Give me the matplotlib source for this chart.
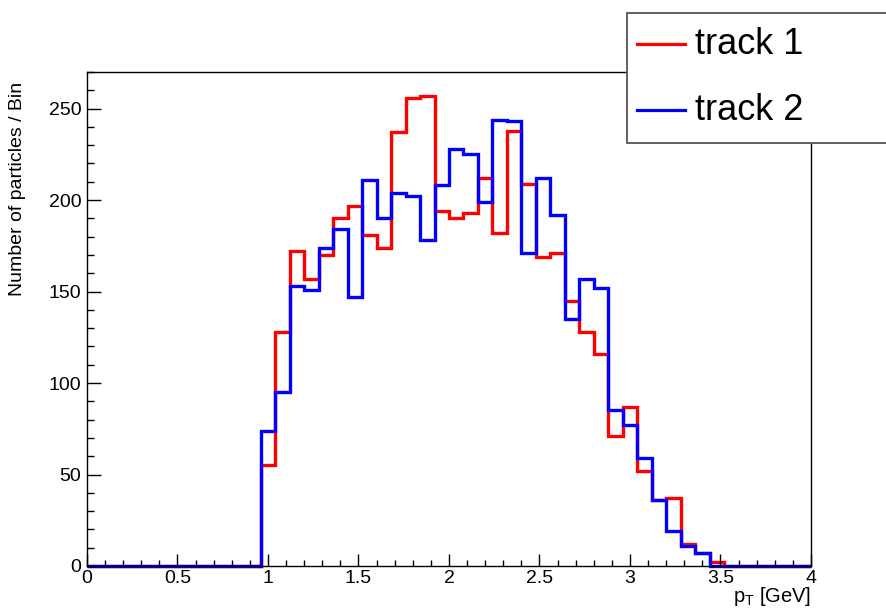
import numpy as np
import matplotlib
matplotlib.use('Agg')
import matplotlib.pyplot as plt
from matplotlib.patches import Rectangle
from matplotlib.lines import Line2D
from matplotlib.ticker import MultipleLocator

plt.rcParams['font.family'] = ['Liberation Sans', 'DejaVu Sans']
plt.rcParams['mathtext.fontset'] = 'custom'
plt.rcParams['mathtext.rm'] = 'Liberation Sans'
plt.rcParams['mathtext.it'] = 'Liberation Sans'

# 50 bins from 0 to 4 GeV, counts for the non-empty region 0.96 - 3.52
edges = np.linspace(0, 4, 51)
track1 = [55, 128, 172, 157, 170, 190, 197, 181, 174, 237, 256, 257, 194, 190, 193, 212,
          182, 238, 209, 169, 171, 145, 128, 116, 71, 87, 52, 36, 37, 12, 7, 2]
track2 = [74, 95, 153, 151, 174, 184, 147, 211, 190, 204, 202, 178, 208, 228, 225, 199,
          244, 243, 171, 212, 192, 135, 157, 152, 85, 77, 59, 36, 19, 11, 7, 0]
first_bin = 12

def full(counts):
    h = np.zeros(50)
    h[first_bin:first_bin + len(counts)] = counts
    return h

fig = plt.figure(figsize=(8.87, 6.12), dpi=100)
ax = fig.add_axes([87/887, 46/612, 724/887, 494/612])

ax.stairs(full(track1), edges, color='#ff0000', lw=2.4, baseline=None, clip_on=False)
ax.stairs(full(track2), edges, color='#0000ff', lw=2.4, baseline=None, clip_on=False)

ax.set_xlim(0, 4)
ax.set_ylim(0, 270)
ax.xaxis.set_major_locator(MultipleLocator(0.5))
ax.xaxis.set_minor_locator(MultipleLocator(0.1))
ax.yaxis.set_major_locator(MultipleLocator(50))
ax.yaxis.set_minor_locator(MultipleLocator(10))
ax.xaxis.set_major_formatter(plt.FuncFormatter(lambda v, p: ('%g' % v)))
ax.tick_params(axis='x', which='major', direction='in', length=8.5, width=1, labelsize=14, pad=3)
ax.tick_params(axis='x', which='minor', direction='in', length=4.5, width=1)
ax.tick_params(axis='y', which='major', direction='in', length=10, width=1, labelsize=14, pad=4)
ax.tick_params(axis='y', which='minor', direction='in', length=5, width=1)
for s in ax.spines.values():
    s.set_linewidth(1)

fig.text(18/887, 1 - 82/612, 'Number of particles / Bin', rotation=90,
         ha='center', va='top', fontsize=14)
fig.text(811/887, 1 - 597/612, r'p$_{\mathregular{T}}$ [GeV]', ha='right', va='center', fontsize=14.5)

# legend box (runs off the right edge like the original)
fig.patches.append(Rectangle((627/887, 1 - 143/612), 0.35, 130/612, transform=fig.transFigure,
                             facecolor='white', edgecolor='#555555', lw=1.3, zorder=5))
for lab, col, yy in [('track 1', '#ff0000', 44), ('track 2', '#0000ff', 110)]:
    fig.lines.append(Line2D([637/887, 685/887], [1 - yy/612] * 2, transform=fig.transFigure,
                            color=col, lw=2.3, zorder=6))
    fig.text(695/887, 1 - yy/612, lab, ha='left', va='center', fontsize=26, zorder=7)

fig.savefig('out.png', dpi=100)
